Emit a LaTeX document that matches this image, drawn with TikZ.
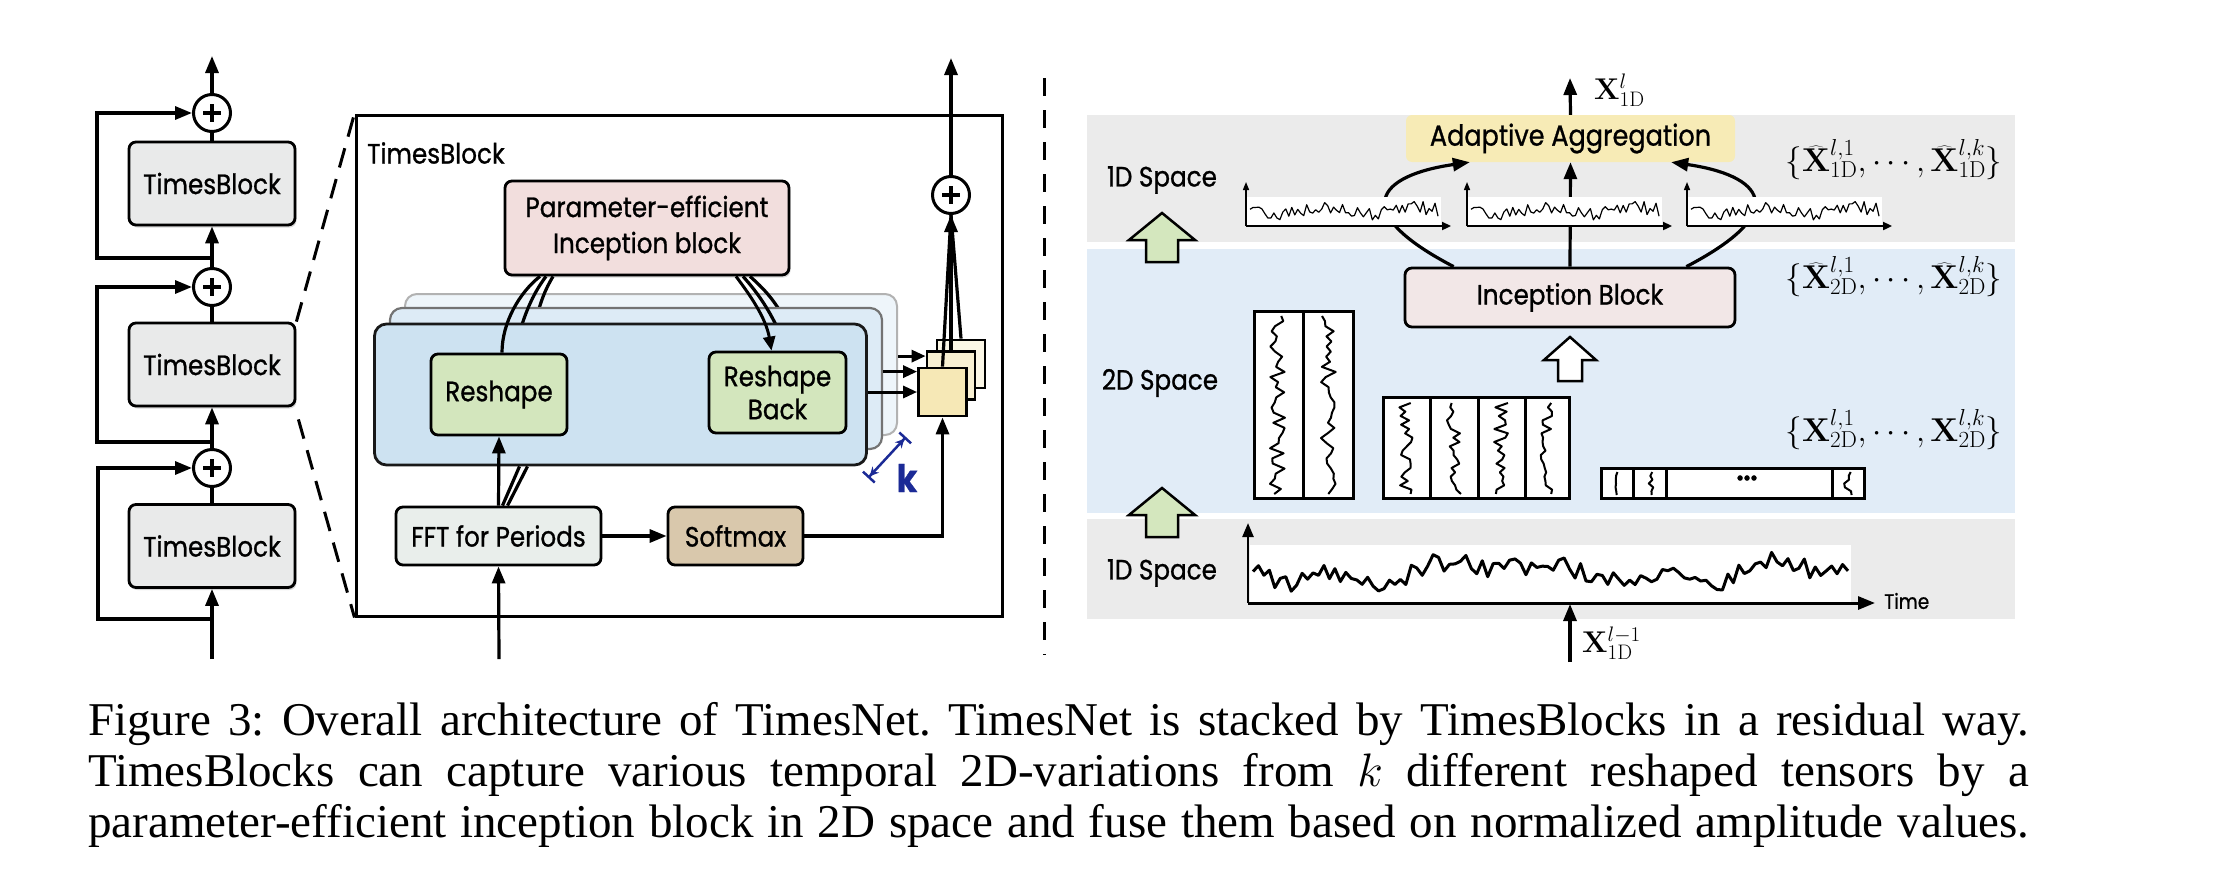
\RequirePackage{fix-cm}
\documentclass[tikz,border=0pt]{standalone}
\usepackage[no-math]{fontspec}
\setmainfont{Liberation Serif}
\newfontfamily\fut[FakeStretch=0.88,FakeBold=0.9]{Poppins}
\usetikzlibrary{arrows.meta,calc,shadows}

\definecolor{tbgray}{HTML}{E9EAEA}
\definecolor{peibc}{HTML}{F2DEDD}
\definecolor{layA}{HTML}{CDE2F1}
\definecolor{layB}{HTML}{DDEBF6}
\definecolor{layC}{HTML}{EEF5FA}
\definecolor{reshc}{HTML}{D3E6BD}
\definecolor{fftc}{HTML}{E9EEEB}
\definecolor{softc}{HTML}{D9C8AC}
\definecolor{sqA}{HTML}{F6E8B6}
\definecolor{sqB}{HTML}{F8F0D2}
\definecolor{sqC}{HTML}{FBF7E6}
\definecolor{bandgray}{HTML}{EBEBEB}
\definecolor{bandblue}{HTML}{E1ECF7}
\definecolor{aggc}{HTML}{F7EBB6}
\definecolor{incc}{HTML}{F2E7E7}
\definecolor{garrow}{HTML}{D4E7BE}
\definecolor{kblue}{HTML}{1B2A96}

\tikzset{
  ln/.style={line width=3.2pt},
  arr/.style={line width=3.2pt,-{Triangle[length=17pt,width=13pt]}},
  sarr/.style={line width=3pt,-{Triangle[length=14pt,width=12pt]}},
  lbl/.style={font=\fut\fontsize{28}{34}\selectfont, inner sep=0pt},
  bx/.style={draw, line width=2.8pt, rounded corners=7pt, align=center, inner sep=0pt, font=\fut\fontsize{28}{34}\selectfont},
  shd/.style={drop shadow={shadow xshift=1.5pt,shadow yshift=-2.5pt,opacity=0.3}},
  tb/.style={bx, shd, fill=tbgray, minimum width=166pt, minimum height=83pt},
  pc/.style={circle, draw, line width=3pt, fill=white, minimum size=37pt, inner sep=0pt},
  dsh/.style={line width=3pt, dash pattern=on 20pt off 12pt},
  layer/.style={rounded corners=12pt, minimum width=492pt, minimum height=141pt, inner sep=0pt},
  sq/.style={draw, line width=2.8pt, minimum width=48pt, minimum height=48pt, inner sep=0pt},
  mth/.style={font=\fontsize{30}{36}\selectfont, inner sep=0pt},
  setm/.style={font=\fontsize{33}{38}\selectfont, inner sep=0pt},
  sig/.style={line width=1.2pt, line join=round},
  mat/.style={line width=3pt},
  trace/.style={line width=2pt, line join=round},
  blockarrow/.style={line width=2.5pt, line join=miter},
  captxt/.style={anchor=base west, inner sep=0pt, font=\fontsize{47}{51}\selectfont\frenchspacing},
}

\begin{document}
\begin{tikzpicture}[x=1pt,y=-1pt]
\useasboundingbox (0,0) rectangle (2222,878);
\fill[white] (0,0) rectangle (2222,878);

% ================= left column =================
\node[draw, line width=3pt, fill=white, minimum width=646pt, minimum height=501pt, inner sep=0pt] (big) at (679,365.5) {};

\node[tb] (tb1) at (212,183.5) {TimesBlock};
\node[tb] (tb2) at (212,364.5) {TimesBlock};
\node[tb] (tb3) at (212,546) {TimesBlock};
\node[pc] (p1) at (212,113) {};
\node[pc] (p2) at (212,287) {};
\node[pc] (p3) at (212,468) {};

\coordinate (in0) at (212,659);
\coordinate (out0) at (212,56);
\coordinate (r3) at (212,619);
\coordinate (r2) at (212,442);
\coordinate (r1) at (212,258);

\draw[arr] (in0) -- (tb3.south);
\draw[ln] (tb3.north) -- (p3.south);
\draw[arr] (p3.north) -- (tb2.south);
\draw[ln] (tb2.north) -- (p2.south);
\draw[arr] (p2.north) -- (tb1.south);
\draw[ln] (tb1.north) -- (p1.south);
\draw[arr] (p1.north) -- (out0);

\draw[arr] (r3) -- ++(-114,0) |- (p3.west);
\draw[arr] (r2) -- ++(-115,0) |- (p2.west);
\draw[arr] (r1) -- ++(-115,0) |- (p1.west);

\draw[dsh] (tb2.north east) -- (big.north west);
\draw[dsh] ($(tb2.south east)+(2,12)$) -- (big.south west);

% ================= TimesBlock detail =================
\node[lbl, anchor=west] (tbl) at (367,153) {TimesBlock};

\node[bx, shd, fill=peibc, minimum width=284pt, minimum height=94pt, font=\fut\fontsize{28}{36}\selectfont] (peib) at (647,228) {Parameter-efficient\\Inception block};

\node[layer, draw=black!30, line width=2pt, fill=layC] (L3) at (651,364.5) {};
\draw[ln] ($(peib.south)+(-94,0)$) .. controls (545,290) and (540,302) .. (535,325);
\draw[ln] ($(peib.south)+(103,0)$) .. controls (763,288) and (775,300) .. (786,322);
\node[layer, draw=black!55, line width=2.2pt, fill=layB] (L2) at (636,378.5) {};
\draw[ln] ($(peib.south)+(-101,0)$) .. controls (532,295) and (524,315) .. (516,345);
\draw[ln] ($(peib.south)+(96,0)$) .. controls (757,292) and (770,310) .. (782,338);
\node[layer, draw=black!90, line width=2.8pt, fill=layA] (L1) at (620.5,394.5) {};

\node[bx, fill=reshc, minimum width=136pt, minimum height=81pt] (resh) at (499,394.5) {Reshape};
\node[bx, fill=reshc, minimum width=137pt, minimum height=81pt, font=\fut\fontsize{28}{33}\selectfont] (rback) at (777.5,392.5) {Reshape\\Back};

\draw[ln] ($(resh.north)+(3,0)$) .. controls (502,322) and (520,292) .. ($(peib.south)+(-107,0)$);
\draw[sarr] ($(peib.south)+(89,0)$) .. controls (750,295) and (766,318) .. ($(rback.north)+(-6,0)$);

\node[bx, fill=fftc, minimum width=205pt, minimum height=58pt] (fft) at (498.5,536) {FFT for Periods};
\node[bx, fill=softc, minimum width=135pt, minimum height=58pt] (soft) at (735.5,536) {Softmax};

\coordinate (in1) at (499,659);
\draw[arr] (in1) -- (fft.south);
\draw[arr] (fft.north) -- (resh.south);
\draw[ln] ($(fft.north)+(4,0)$) -- ($(L1.south)+(-101,0)$);
\draw[ln] ($(fft.north)+(9,0)$) -- ($(L1.south)+(-93,0)$);
\draw[arr] (fft.east) -- (soft.west);

\node[sq, fill=sqC] (sq3) at (961,364) {};
\node[sq, fill=sqB] (sq2) at (951,375.5) {};
\node[sq, fill=sqA] (sq1) at (942.5,392) {};

\coordinate (a2) at ($(sq1.north west)+(0,5)$);
\coordinate (a3) at ($(sq2.north west)+(0,6)$);
\draw[sarr] (sq1.west -| L1.east) -- (sq1.west);
\draw[sarr] (a2 -| L2.east) -- (a2);
\draw[sarr] (a3 -| L3.east) -- (a3);

\node[pc] (p4) at (951,195) {};
\coordinate (out1) at (951,58);
\draw[ln] (sq1.north) -- (p4.south);
\draw[ln] (sq3.north) -- (p4.south);
\draw[arr] (sq2.north) -- (p4.south);
\draw[arr] (p4.north) -- (out1);
\draw[arr] (soft.east) -| (sq1.south);

\foreach \p in {p1,p2,p3,p4}
  \draw[line width=4pt] (\p.center) ++(-9,0) -- ++(18,0) (\p.center) ++(0,-9) -- ++(0,18);

\coordinate (k1) at (868,478);
\coordinate (k2) at (906,437);
\draw[kblue, line width=2.5pt, {Bar[width=16pt]Stealth[length=9pt,width=9pt]}-{Stealth[length=9pt,width=9pt]Bar[width=16pt]}] (k1) -- (k2);
\node[text=kblue, font=\fut\bfseries\fontsize{38}{40}\selectfont, inner sep=0pt] (klbl) at (907,478) {k};

% ================= right panel =================
\coordinate (sepT) at (1044,78);
\coordinate (sepB) at (1044,655);
\draw[dsh, dash pattern=on 18pt off 14pt] (sepT) -- (sepB);

\fill[bandgray] (1087,115) rectangle (2015,242);
\fill[bandblue] (1087,249) rectangle (2015,513);
\fill[bandgray] (1087,519) rectangle (2015,619);

\node[fill=aggc, rounded corners=6pt, minimum width=329pt, minimum height=47pt, inner sep=0pt, font=\fut\fontsize{29}{34}\selectfont] (agg) at (1570.5,138.5) {Adaptive Aggregation};
\node[bx, fill=incc, minimum width=330pt, minimum height=59pt] (ib) at (1570,297.5) {Inception Block};

\coordinate (aggout) at (1570,78);
\draw[arr] (agg.north) -- (aggout);
\node[mth, anchor=west] (xout) at (1594,90) {$\mathbf{X}^{l}_{\mathrm{1D}}$};

\draw[arr] (ib.north) -- (agg.south);
\draw[arr] ($(ib.north west)+(50,0)$) .. controls (1345,210) and (1380,175) .. ($(agg.south west)+(64,0)$);
\draw[arr] ($(ib.north east)+(-50,0)$) .. controls (1795,210) and (1760,175) .. ($(agg.south east)+(-64,0)$);

\foreach \ox in {0,221,441} {
  \fill[white] (1247+\ox,197) rectangle (1441+\ox,225);
  \pgfmathsetseed{11}
  \draw[sig] plot[domain=1250:1438, samples=64] ({\x+\ox}, {211 + 3*sin(\x*4) + 7*rand});
  \draw[line width=1.4pt,-{Triangle[length=8pt,width=6pt]}] (1246+\ox,226) -- (1246+\ox,182);
  \draw[line width=2.2pt,-{Triangle[length=9pt,width=8pt]}] (1246+\ox,226) -- (1451+\ox,226);
}

\node[lbl] (sp1) at (1162,180) {1D Space};
\node[lbl] (sp2) at (1160,383) {2D Space};
\node[lbl] (sp3) at (1162,573) {1D Space};

\draw[blockarrow, fill=garrow] (1162,213) -- (1195,240) -- (1178,240) -- (1178,262) -- (1146,262) -- (1146,240) -- (1129,240) -- cycle;
\draw[blockarrow, fill=garrow] (1162,488) -- (1195,515) -- (1178,515) -- (1178,537) -- (1146,537) -- (1146,515) -- (1129,515) -- cycle;
\draw[blockarrow, fill=white] (1570,337) -- (1596,360) -- (1582,360) -- (1582,381) -- (1558,381) -- (1558,360) -- (1544,360) -- cycle;

\node[setm] (hat1) at (1894,160) {$\{\widehat{\mathbf{X}}^{l,1}_{\mathrm{1D}},\cdots,\widehat{\mathbf{X}}^{l,k}_{\mathrm{1D}}\}$};
\node[setm] (hat2) at (1894,277) {$\{\widehat{\mathbf{X}}^{l,1}_{\mathrm{2D}},\cdots,\widehat{\mathbf{X}}^{l,k}_{\mathrm{2D}}\}$};
\node[setm] (set2) at (1894,430) {$\{\mathbf{X}^{l,1}_{\mathrm{2D}},\cdots,\mathbf{X}^{l,k}_{\mathrm{2D}}\}$};

% 2D matrices
\fill[white] (1254,311) rectangle (1353,498);
\fill[white] (1383,397) rectangle (1569,498);
\fill[white] (1601,468) rectangle (1864,498);
\pgfmathsetseed{3}
\foreach \c in {1278,1328}
  \draw[trace] plot[domain=316:494, samples=36, variable=\t] ({\c+8*rand}, \t);
\foreach \c in {1406,1454,1501,1547}
  \draw[trace] plot[domain=403:494, samples=22, variable=\t] ({\c+7*rand}, \t);
\foreach \c in {1617,1649.5,1848}
  \draw[trace] plot[domain=472:495, samples=7, variable=\t] ({\c+4*rand}, \t);
\draw[mat] (1254,311) rectangle (1353,498) (1303,311) -- (1303,498);
\draw[mat] (1383,397) rectangle (1569,498) (1430,397) -- (1430,498) (1478,397) -- (1478,498) (1525,397) -- (1525,498);
\draw[mat] (1601,468) rectangle (1864,498) (1633,468) -- (1633,498) (1666,468) -- (1666,498) (1832,468) -- (1832,498);
\node[lbl, font=\fut\bfseries\fontsize{28}{30}\selectfont] (dots) at (1747,478) {...};

% bottom 1D plot
\fill[white] (1250,545) rectangle (1851,602);
\pgfmathsetseed{5}
\draw[line width=3pt, line join=round] plot[domain=1253:1848, samples=110] (\x, {572 + 8*sin((\x-1253)*1.1) + 6*sin((\x-1253)*3.3) + 10*rand});
\draw[line width=2.4pt,-{Triangle[length=14pt,width=11pt]}] (1248,603) -- (1248,523);
\draw[line width=3pt,-{Triangle[length=17pt,width=13pt]}] (1248,603) -- (1875,603);
\node[lbl, anchor=west, font=\fut\fontsize{21}{25}\selectfont] (time) at (1884,601) {Time};

\coordinate (xin) at (1570,662);
\coordinate (xaxis) at (1570,604);
\draw[arr] (xin) -- (xaxis);
\node[mth, anchor=west] (xinl) at (1582,643) {$\mathbf{X}^{l-1}_{\mathrm{1D}}$};

% ================= caption =================
\node[captxt] (cap1) at (88,735) {\makebox[1941pt][s]{Figure 3: Overall architecture of TimesNet. TimesNet is stacked by TimesBlocks in a residual way.}};
\node[captxt] (cap2) at (88,786) {\makebox[1941pt][s]{TimesBlocks can capture various temporal 2D-variations from $k$ different reshaped tensors by a}};
\node[captxt] (cap3) at (88,837) {\makebox[1941pt][s]{parameter-efficient inception block in 2D space and fuse them based on normalized amplitude values.}};
\end{tikzpicture}
\end{document}
